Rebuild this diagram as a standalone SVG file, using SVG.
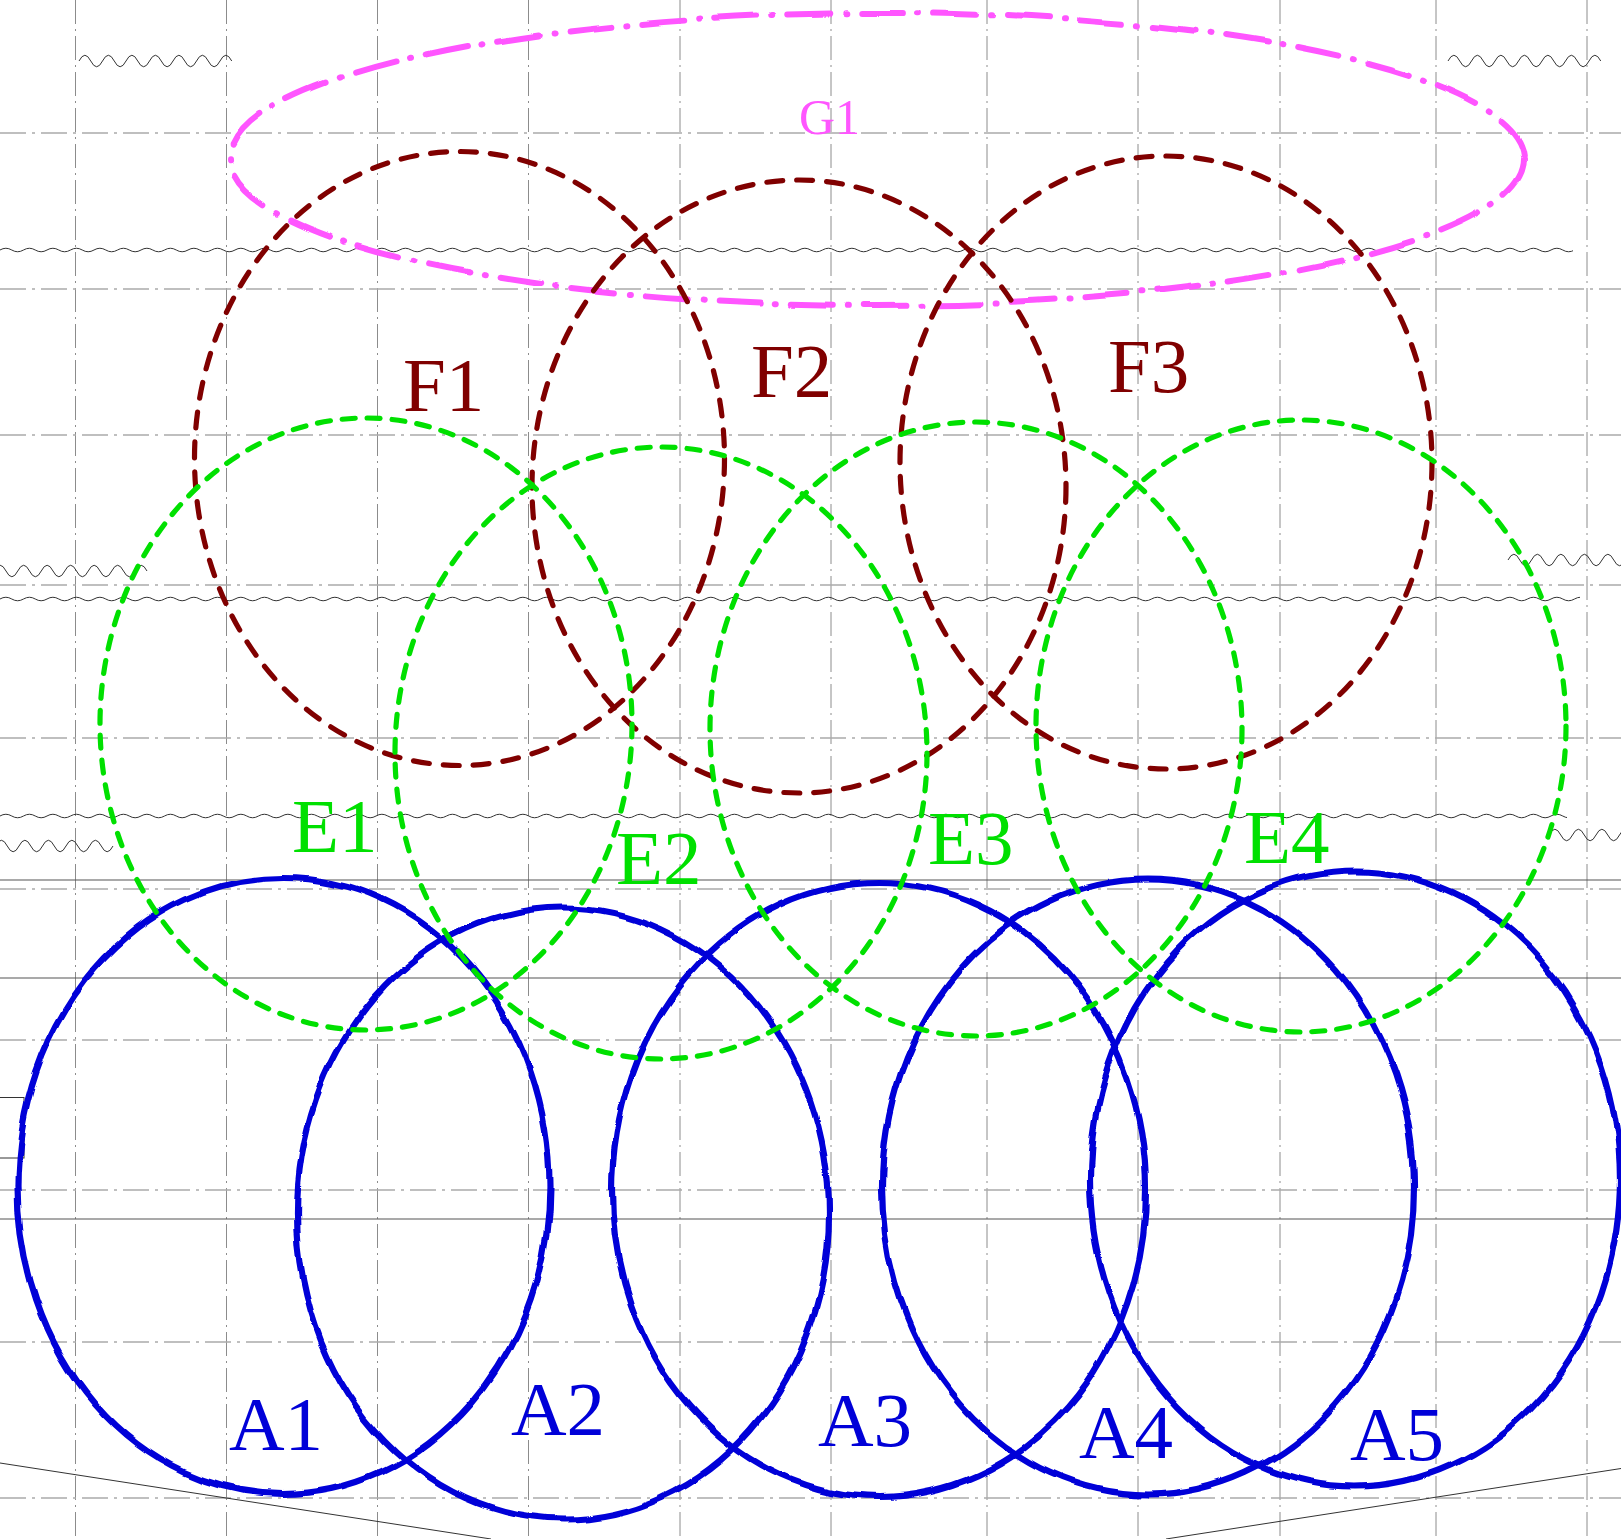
<svg xmlns="http://www.w3.org/2000/svg" width="1621" height="1539" viewBox="0 0 1621 1539">
<style>
.gv{stroke:#8c8c8c;stroke-width:1;stroke-dasharray:24 5 2 5;fill:none}
.gh{stroke:#aaaaaa;stroke-width:1.6;stroke-dasharray:26 6 3 6;fill:none}
.wv{stroke:#333;stroke-width:1;fill:none}
.sl{stroke:#555;stroke-width:1.2;fill:none}
.a{fill:none;stroke:#0000d8;stroke-width:6.2}
.e{fill:none;stroke:#00e000;stroke-width:5.2;stroke-dasharray:13 12;stroke-linecap:round}
.f{fill:none;stroke:#800000;stroke-width:5.2;stroke-dasharray:16 14;stroke-linecap:round}
.g{fill:none;stroke:#ff55ff;stroke-width:6;stroke-dasharray:42 15 1 15;stroke-linecap:round}
text{font-family:"Liberation Serif","DejaVu Serif",serif;font-size:77px}
.ta{fill:#0000d8}.te{fill:#00e000}.tf{fill:#800000}.tg{fill:#ff55ff;font-size:50px}
</style>
<defs>
<filter id="wob" filterUnits="userSpaceOnUse" x="-20" y="-20" width="1661" height="1579" color-interpolation-filters="sRGB">
<feTurbulence type="fractalNoise" baseFrequency="0.026" numOctaves="1" seed="7" result="n"/>
<feDisplacementMap in="SourceGraphic" in2="n" scale="9" xChannelSelector="R" yChannelSelector="G" result="d"/>
<feGaussianBlur in="d" stdDeviation="0.5"/>
</filter>
<filter id="wob2" filterUnits="userSpaceOnUse" x="-20" y="-20" width="1661" height="1579" color-interpolation-filters="sRGB">
<feTurbulence type="fractalNoise" baseFrequency="0.012" numOctaves="1" seed="3" result="n"/>
<feDisplacementMap in="SourceGraphic" in2="n" scale="8" xChannelSelector="R" yChannelSelector="G" result="d"/>
<feGaussianBlur in="d" stdDeviation="0.5"/>
</filter>
<clipPath id="c1"><rect x="-10" y="200" width="1583" height="100"/></clipPath>
<clipPath id="c2"><rect x="-10" y="550" width="1590" height="100"/></clipPath>
<clipPath id="c3"><rect x="-10" y="770" width="1577" height="100"/></clipPath>
</defs>
<rect width="1621" height="1539" fill="#fff"/>
<g id="grid">
<path class="gv" d="M75.5,0V1539M226.5,0V1539M377.5,0V1539M528.5,0V1539M680,0V1539M831,0V1539M987,0V1539M1138,0V1539M1280,0V1539M1436,0V1539M1587,0V1539"/>
<path class="gh" d="M0,133H1621M0,289H1621M0,435H1621M0,585H1621M0,738H1621M0,889H1621M0,1040H1621M0,1190H1621M0,1342H1621M0,1498H1621"/>
</g>
<g id="waves">
<path class="wv" d="M79,61q5.875,-11.5 11.75,0t11.75,0t11.75,0t11.75,0t11.75,0t11.75,0t11.75,0t11.75,0t11.75,0t11.75,0t11.75,0t11.75,0t11.75,0"/>
<path class="wv" d="M1448,61q5.875,-11.5 11.75,0t11.75,0t11.75,0t11.75,0t11.75,0t11.75,0t11.75,0t11.75,0t11.75,0t11.75,0t11.75,0t11.75,0t11.75,0"/>
<path class="wv" d="M-5.75,571q5.875,-11.5 11.75,0t11.75,0t11.75,0t11.75,0t11.75,0t11.75,0t11.75,0t11.75,0t11.75,0t11.75,0t11.75,0t11.75,0t11.75,0"/>
<path class="wv" d="M1508,560q5.875,-11.5 11.75,0t11.75,0t11.75,0t11.75,0t11.75,0t11.75,0t11.75,0t11.75,0t11.75,0t11.75,0"/>
<path class="wv" d="M-4.5,846q5.875,-11.5 11.75,0t11.75,0t11.75,0t11.75,0t11.75,0t11.75,0t11.75,0t11.75,0t11.75,0t11.75,0"/>
<path class="wv" d="M1549,835q5.875,-11.5 11.75,0t11.75,0t11.75,0t11.75,0t11.75,0t11.75,0t11.75,0"/>
<path class="wv" clip-path="url(#c1)" d="M0,250q5.875,-3.5 11.75,0t11.75,0t11.75,0t11.75,0t11.75,0t11.75,0t11.75,0t11.75,0t11.75,0t11.75,0t11.75,0t11.75,0t11.75,0t11.75,0t11.75,0t11.75,0t11.75,0t11.75,0t11.75,0t11.75,0t11.75,0t11.75,0t11.75,0t11.75,0t11.75,0t11.75,0t11.75,0t11.75,0t11.75,0t11.75,0t11.75,0t11.75,0t11.75,0t11.75,0t11.75,0t11.75,0t11.75,0t11.75,0t11.75,0t11.75,0t11.75,0t11.75,0t11.75,0t11.75,0t11.75,0t11.75,0t11.75,0t11.75,0t11.75,0t11.75,0t11.75,0t11.75,0t11.75,0t11.75,0t11.75,0t11.75,0t11.75,0t11.75,0t11.75,0t11.75,0t11.75,0t11.75,0t11.75,0t11.75,0t11.75,0t11.75,0t11.75,0t11.75,0t11.75,0t11.75,0t11.75,0t11.75,0t11.75,0t11.75,0t11.75,0t11.75,0t11.75,0t11.75,0t11.75,0t11.75,0t11.75,0t11.75,0t11.75,0t11.75,0t11.75,0t11.75,0t11.75,0t11.75,0t11.75,0t11.75,0t11.75,0t11.75,0t11.75,0t11.75,0t11.75,0t11.75,0t11.75,0t11.75,0t11.75,0t11.75,0t11.75,0t11.75,0t11.75,0t11.75,0t11.75,0t11.75,0t11.75,0t11.75,0t11.75,0t11.75,0t11.75,0t11.75,0t11.75,0t11.75,0t11.75,0t11.75,0t11.75,0t11.75,0t11.75,0t11.75,0t11.75,0t11.75,0t11.75,0t11.75,0t11.75,0t11.75,0t11.75,0t11.75,0t11.75,0t11.75,0t11.75,0t11.75,0t11.75,0t11.75,0t11.75,0t11.75,0t11.75,0t11.75,0t11.75,0t11.75,0t11.75,0t11.75,0t11.75,0t11.75,0t11.75,0t11.75,0t11.75,0"/>
<path class="wv" clip-path="url(#c2)" d="M0,599q5.875,-3.5 11.75,0t11.75,0t11.75,0t11.75,0t11.75,0t11.75,0t11.75,0t11.75,0t11.75,0t11.75,0t11.75,0t11.75,0t11.75,0t11.75,0t11.75,0t11.75,0t11.75,0t11.75,0t11.75,0t11.75,0t11.75,0t11.75,0t11.75,0t11.75,0t11.75,0t11.75,0t11.75,0t11.75,0t11.75,0t11.75,0t11.75,0t11.75,0t11.75,0t11.75,0t11.75,0t11.75,0t11.75,0t11.75,0t11.75,0t11.75,0t11.75,0t11.75,0t11.75,0t11.75,0t11.75,0t11.75,0t11.75,0t11.75,0t11.75,0t11.75,0t11.75,0t11.75,0t11.75,0t11.75,0t11.75,0t11.75,0t11.75,0t11.75,0t11.75,0t11.75,0t11.75,0t11.75,0t11.75,0t11.75,0t11.75,0t11.75,0t11.75,0t11.75,0t11.75,0t11.75,0t11.75,0t11.75,0t11.75,0t11.75,0t11.75,0t11.75,0t11.75,0t11.75,0t11.75,0t11.75,0t11.75,0t11.75,0t11.75,0t11.75,0t11.75,0t11.75,0t11.75,0t11.75,0t11.75,0t11.75,0t11.75,0t11.75,0t11.75,0t11.75,0t11.75,0t11.75,0t11.75,0t11.75,0t11.75,0t11.75,0t11.75,0t11.75,0t11.75,0t11.75,0t11.75,0t11.75,0t11.75,0t11.75,0t11.75,0t11.75,0t11.75,0t11.75,0t11.75,0t11.75,0t11.75,0t11.75,0t11.75,0t11.75,0t11.75,0t11.75,0t11.75,0t11.75,0t11.75,0t11.75,0t11.75,0t11.75,0t11.75,0t11.75,0t11.75,0t11.75,0t11.75,0t11.75,0t11.75,0t11.75,0t11.75,0t11.75,0t11.75,0t11.75,0t11.75,0t11.75,0t11.75,0t11.75,0"/>
<path class="wv" clip-path="url(#c3)" d="M0,816q5.875,-3.5 11.75,0t11.75,0t11.75,0t11.75,0t11.75,0t11.75,0t11.75,0t11.75,0t11.75,0t11.75,0t11.75,0t11.75,0t11.75,0t11.75,0t11.75,0t11.75,0t11.75,0t11.75,0t11.75,0t11.75,0t11.75,0t11.75,0t11.75,0t11.75,0t11.75,0t11.75,0t11.75,0t11.75,0t11.75,0t11.75,0t11.75,0t11.75,0t11.75,0t11.75,0t11.75,0t11.75,0t11.75,0t11.75,0t11.75,0t11.75,0t11.75,0t11.75,0t11.75,0t11.75,0t11.75,0t11.75,0t11.75,0t11.75,0t11.75,0t11.75,0t11.75,0t11.75,0t11.75,0t11.75,0t11.75,0t11.75,0t11.75,0t11.75,0t11.75,0t11.75,0t11.75,0t11.75,0t11.75,0t11.75,0t11.75,0t11.75,0t11.75,0t11.75,0t11.75,0t11.75,0t11.75,0t11.75,0t11.75,0t11.75,0t11.75,0t11.75,0t11.75,0t11.75,0t11.75,0t11.75,0t11.75,0t11.75,0t11.75,0t11.75,0t11.75,0t11.75,0t11.75,0t11.75,0t11.75,0t11.75,0t11.75,0t11.75,0t11.75,0t11.75,0t11.75,0t11.75,0t11.75,0t11.75,0t11.75,0t11.75,0t11.75,0t11.75,0t11.75,0t11.75,0t11.75,0t11.75,0t11.75,0t11.75,0t11.75,0t11.75,0t11.75,0t11.75,0t11.75,0t11.75,0t11.75,0t11.75,0t11.75,0t11.75,0t11.75,0t11.75,0t11.75,0t11.75,0t11.75,0t11.75,0t11.75,0t11.75,0t11.75,0t11.75,0t11.75,0t11.75,0t11.75,0t11.75,0t11.75,0t11.75,0t11.75,0t11.75,0"/>
</g>
<g id="lines">
<path class="sl" d="M0,880H1621M0,978H1621M0,1219H1621"/>
<rect x="-2" y="1097.5" width="26" height="60.5" fill="none" stroke="#333" stroke-width="1"/>
<path class="wv" d="M0,1463L491,1539M1166,1539L1621,1468.5"/>
</g>
<g id="A" filter="url(#wob)">
<ellipse id="A1" class="a" cx="283.5" cy="1186" rx="266" ry="308"/>
<ellipse id="A2" class="a" cx="563" cy="1213.5" rx="266" ry="306"/>
<ellipse id="A3" class="a" cx="879" cy="1190" rx="267" ry="307"/>
<ellipse id="A4" class="a" cx="1148" cy="1187" rx="266" ry="307.5"/>
<ellipse id="A5" class="a" cx="1355" cy="1179" rx="265" ry="307.5"/>
</g>
<g id="G1">
<ellipse class="g" cx="877" cy="159" rx="647" ry="146" filter="url(#wob2)"/>
<text class="tg" x="799" y="134">G1</text>
</g>
<g id="F">
<ellipse id="F1" class="f" cx="459.5" cy="458.5" rx="265" ry="307"/>
<ellipse id="F2" class="f" cx="799" cy="486.5" rx="267" ry="306.5"/>
<ellipse id="F3" class="f" cx="1166" cy="462.5" rx="266" ry="306.5"/>
</g>
<g id="E">
<ellipse id="E1" class="e" cx="366" cy="724" rx="266" ry="306"/>
<ellipse id="E2" class="e" cx="661" cy="753" rx="266" ry="306"/>
<ellipse id="E3" class="e" cx="976" cy="729" rx="266" ry="307"/>
<ellipse id="E4" class="e" cx="1301" cy="726" rx="265" ry="306"/>
</g>
<g id="labels">
<text class="ta" x="229" y="1450">A1</text>
<text class="ta" x="511" y="1435">A2</text>
<text class="ta" x="818" y="1446">A3</text>
<text class="ta" x="1079" y="1458">A4</text>
<text class="ta" x="1350" y="1460">A5</text>
<text class="te" x="292" y="852">E1</text>
<text class="te" x="616" y="884">E2</text>
<text class="te" x="928" y="864">E3</text>
<text class="te" x="1244" y="863">E4</text>
<text class="tf" x="403" y="411">F1</text>
<text class="tf" x="751" y="397">F2</text>
<text class="tf" x="1108" y="392">F3</text>
</g>
</svg>
